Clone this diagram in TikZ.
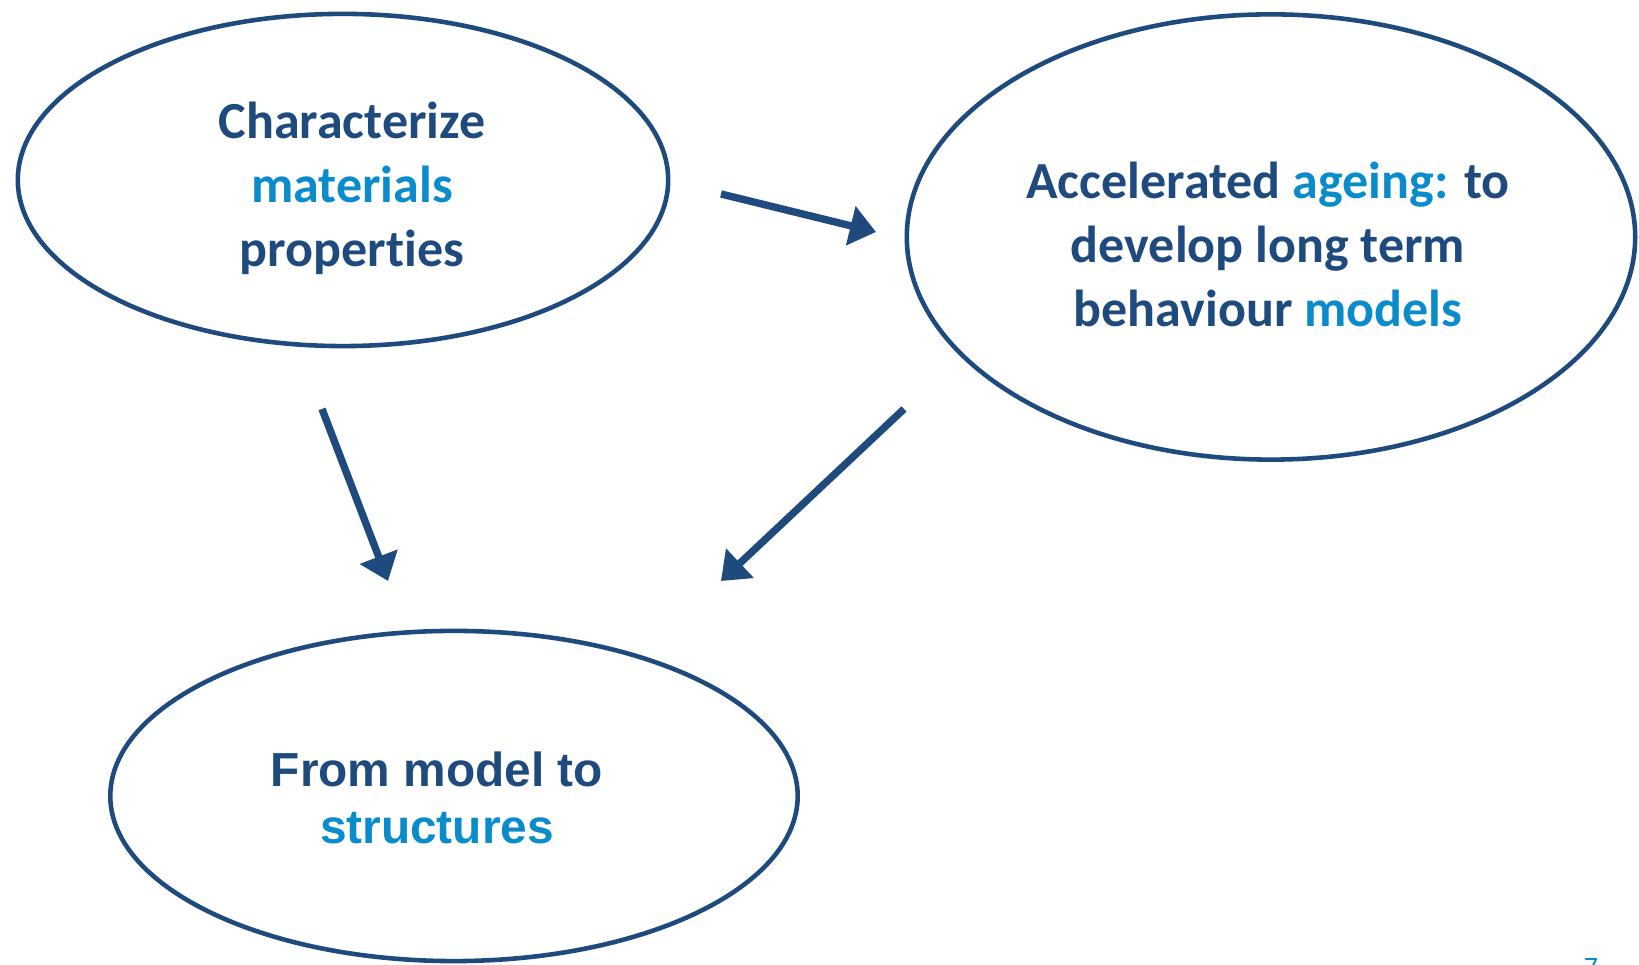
\documentclass[tikz,border=0pt]{standalone}
\usepackage{fontspec}
\setmainfont{Carlito}[Ligatures=NoCommon]
\newfontfamily\arialfont{Liberation Sans}
\usetikzlibrary{shapes.geometric,arrows.meta}
\definecolor{navyblue}{HTML}{1F4A7E}
\definecolor{skyblue}{HTML}{0A8BCB}

\begin{document}
\begin{tikzpicture}[x=0.01cm, y=-0.01cm,
  bubble/.style={draw=navyblue, line width=1.3pt, ellipse, inner sep=0pt},
  flow/.style={navyblue, line width=2.1pt, -{Triangle[length=0.26cm, width=0.39cm]}},
  caption/.style={font=\fontsize{14.8}{18.2}\selectfont\bfseries, text=navyblue, align=center}]
  \useasboundingbox (0,0) rectangle (1639,965);
  % the three ellipses
  \node[bubble, minimum width=6.5cm, minimum height=3.32cm] (charac) at (343,180) {};
  \node[bubble, minimum width=7.28cm, minimum height=4.45cm] (ageing) at (1271,237) {};
  \node[bubble, minimum width=6.87cm, minimum height=3.3cm] (model) at (454,796) {};
  % texts inside
  \node[caption] (charactext) at (352,188)
    {Characterize\\{\color{skyblue}materials}\\properties};
  \node[caption] (ageingtext) at (1268,244)
    {Accelerated {\color{skyblue}ageing:} to\\develop long term\\behaviour {\color{skyblue}models}};
  \node[caption, font=\arialfont\fontsize{13.6}{16.2}\selectfont\bfseries] (modeltext) at (437,798)
    {From model to\\{\color{skyblue}structures}};
  % free arrow ends
  \coordinate (a1s) at (721,194);  \coordinate (a1e) at (876,232);
  \coordinate (a2s) at (322,409);  \coordinate (a2e) at (388,581);
  \coordinate (a3s) at (904,409);  \coordinate (a3e) at (721,581);
  \draw[flow] (a1s) -- (a1e);
  \draw[flow] (a2s) -- (a2e);
  \draw[flow] (a3s) -- (a3e);
  % page number
  \node[anchor=base, text=skyblue, font=\fontsize{8}{9}\selectfont] (pagenum) at (1591,977) {7};
\end{tikzpicture}
\end{document}
